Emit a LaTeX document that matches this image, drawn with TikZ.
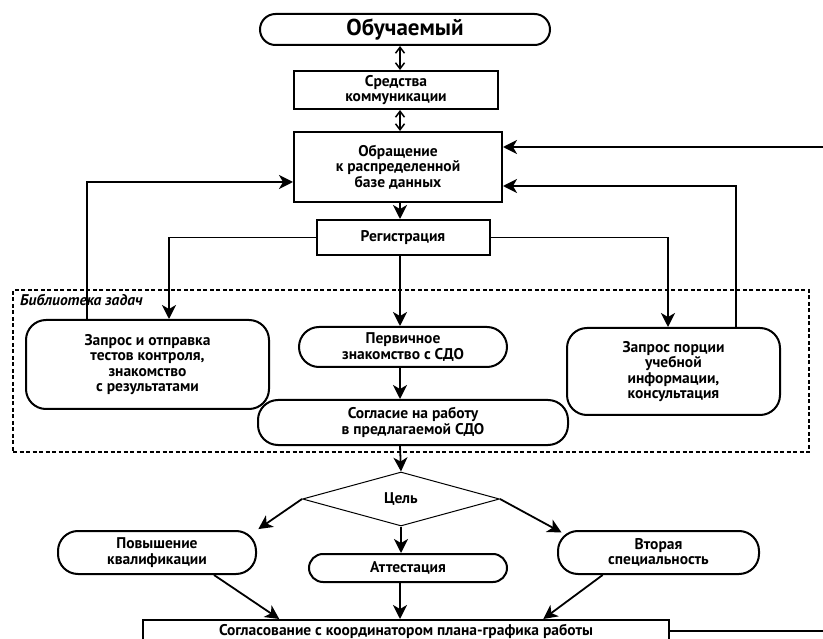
\documentclass[tikz,border=0pt]{standalone}
\usepackage{fontspec}
\setmainfont{PT Sans}
\usetikzlibrary{arrows.meta,calc,shapes.geometric}

\begin{document}
\begin{tikzpicture}[x=1pt,y=-1pt,
    font=\bfseries\fontsize{15.5}{15.5}\selectfont,
    box/.style={draw,line width=2pt,align=center,inner sep=0pt},
    rbox/.style={box,rounded corners=#1},
    rbox/.default=20pt,
    arr/.style={line width=1.8pt,-{Stealth[length=14pt,width=14pt,inset=4pt]}},
    dbl/.style={line width=1.5pt,{Straight Barb[length=6pt,width=9pt]}-{Straight Barb[length=6pt,width=9pt]}}]
\useasboundingbox (0,0) rectangle (823,639);

\node[rbox=15.5pt,minimum width=290pt,minimum height=31pt,font=\bfseries\fontsize{23}{24}\selectfont] (obuch) at (405,29.5) {Обучаемый};
\node[box,minimum width=204pt,minimum height=38pt] (sredst) at (396,90) {Средства\\коммуникации};
\node[box,minimum width=208pt,minimum height=70pt] (obrash) at (398,167) {Обращение\\к распределенной\\базе данных};
\node[box,minimum width=173pt,minimum height=35pt] (reg) at (403,237.5) {Регистрация};

\node[draw,line width=2pt,dash pattern=on 4pt off 2.5pt,minimum width=796pt,minimum height=162pt] (lib) at (411,371) {};
\node[anchor=north west,inner sep=0pt,font=\bfseries\itshape\fontsize{15.5}{15.5}\selectfont] (libname) at ([xshift=8pt,yshift=-5pt]lib.north west) {Библиотека задач};

\node[rbox,minimum width=243pt,minimum height=89pt] (ztest) at (147.5,364.5) {Запрос и отправка\\тестов контроля,\\знакомство\\с результатами};
\node[rbox,minimum width=208pt,minimum height=40pt] (perv) at (403,347) {Первичное\\знакомство с СДО};
\node[rbox,minimum width=310pt,minimum height=45pt] (soglas) at (413,422.5) {Согласие на работу\\в предлагаемой СДО};
\node[rbox,minimum width=213pt,minimum height=87pt] (zporc) at (673.5,371.5) {Запрос порции\\учебной\\информации,\\консультация};

\node[draw,diamond,line width=1pt,minimum width=197pt,minimum height=54pt,inner sep=0pt] (cel) at (401,499) {Цель};
\node[rbox,minimum width=198pt,minimum height=43pt] (povysh) at (157,552.5) {Повышение\\квалификации};
\node[rbox=14pt,minimum width=198pt,minimum height=28pt] (attest) at (408,568) {Аттестация};
\node[rbox,minimum width=201pt,minimum height=43pt] (vtor) at (658.5,552.5) {Вторая\\специальность};
\node[box,minimum width=526pt,minimum height=22pt] (sogl) at (406,631) {Согласование с координатором плана-графика работы};

\coordinate (axis) at (400,0);
\coordinate (tl) at (169,0);
\coordinate (tr) at (668,0);
\coordinate (fl) at (87,182);
\coordinate (fr) at (736,186);
\coordinate (inr) at (823,147);
\coordinate (outr) at (823,0);

\draw[dbl] (obuch.south -| axis) -- (sredst.north -| axis);
\draw[dbl] (sredst.south -| axis) -- (obrash.north -| axis);
\draw[arr] (obrash.south -| axis) -- (reg.north -| axis);
\draw[arr] (reg.south -| axis) -- (perv.north -| axis);
\draw[arr] (perv.south -| axis) -- (soglas.north -| axis);
\draw[arr] (soglas.south -| axis) -- (cel.north);

\draw[arr] (reg.west) -| (ztest.north -| tl);
\draw[arr] (reg.east) -| (zporc.north -| tr);
\draw[arr] (ztest.north -| fl) |- (obrash.west |- fl);
\draw[arr] (zporc.north -| fr) |- (obrash.east |- fr);
\draw[arr] (inr) -- (obrash.east |- inr);

\draw[arr] (cel.west) -- ($(cel.west)!0.97!(povysh.north east)$);
\draw[arr] (cel.east) -- ($(cel.east)!1.08!(vtor.north west)$);
\draw[arr] (cel.south) -- (cel.south |- attest.north);
\draw[arr] ($(povysh.south)!0.57!(povysh.south east)$) -- ($(sogl.north west)!0.26!(sogl.north east)$);
\draw[arr] (attest.south -| axis) -- (sogl.north -| axis);
\draw[arr] ($(vtor.south)!0.55!(vtor.south west)$) -- ($(sogl.north west)!0.76!(sogl.north east)$);
\draw[line width=1.8pt] (sogl.east) -- (sogl.east -| outr);
\end{tikzpicture}
\end{document}
